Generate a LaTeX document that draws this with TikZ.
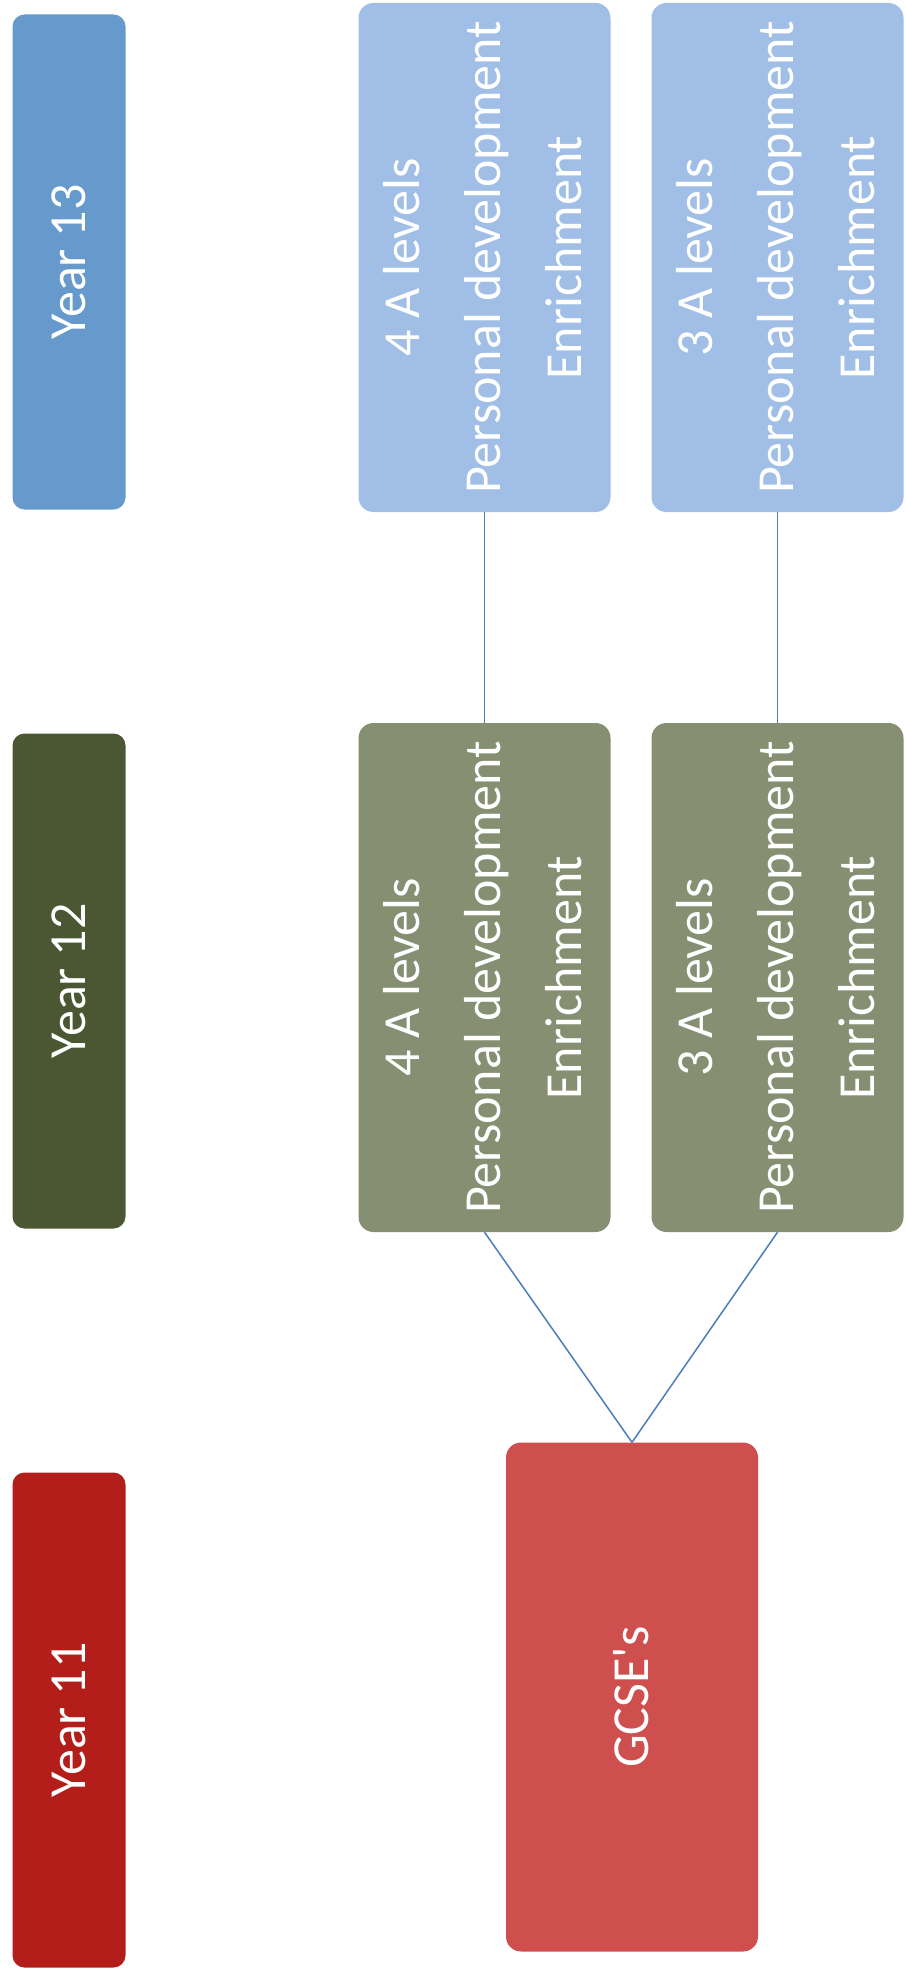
\documentclass[tikz,border=0pt]{standalone}
\usepackage{fontspec}
\setmainfont{Carlito}

\definecolor{yearblue}{HTML}{6699CC}
\definecolor{boxblue}{HTML}{A0BEE6}
\definecolor{yeargreen}{HTML}{4B5733}
\definecolor{boxgreen}{HTML}{878F72}
\definecolor{yearred}{HTML}{B31D1A}
\definecolor{boxred}{HTML}{CF4E4E}
\definecolor{linkblue}{HTML}{4A7EBB}

\newcommand{\vtext}[1]{\rotatebox{90}{\begin{tabular}{@{}c@{}}#1\end{tabular}}}

\begin{document}
\begin{tikzpicture}[x = 1pt, y = -1pt,
	yearbox/.style = {draw = none, rounded corners = 12pt, minimum width = 113pt, minimum height = 495pt, inner sep = 0pt, text = white},
	bigbox/.style = {draw = none, rounded corners = 15pt, minimum width = 252pt, minimum height = 509pt, inner sep = 0pt, text = white},
	link/.style = {draw = linkblue, line width = 1.5pt}]

	% Definitions

	\def\Big{\fontsize{52}{81}\selectfont}

	\useasboundingbox (0, 0) rectangle (905, 1977);

	% Year labels

	\node [yearbox, fill = yearblue] (y13) at (69, 262) {\Big\vtext{Year 13}};
	\node [yearbox, fill = yeargreen] (y12) at (69, 981) {\Big\vtext{Year 12}};
	\node [yearbox, fill = yearred] (y11) at (69, 1720) {\Big\vtext{Year 11}};

	% Year 13 boxes

	\node [bigbox, fill = boxblue] (b4) at (484.5, 257.5) {\Big\vtext{4 A levels\\Personal development\\Enrichment}};
	\node [bigbox, fill = boxblue] (b3) at (777.5, 257.5) {\Big\vtext{3 A levels\\Personal development\\Enrichment}};

	% Year 12 boxes

	\node [bigbox, fill = boxgreen] (g4) at (484.5, 977.5) {\Big\vtext{4 A levels\\Personal development\\Enrichment}};
	\node [bigbox, fill = boxgreen] (g3) at (777.5, 977.5) {\Big\vtext{3 A levels\\Personal development\\Enrichment}};

	% Year 11 box

	\node [bigbox, fill = boxred] (gcse) at (632, 1697) {\Big\vtext{GCSE\textquotesingle s}};

	% Links

	\draw [link] (b4.south) -- (g4.north);
	\draw [link] (b3.south) -- (g3.north);
	\draw [link] (g4.south) -- (gcse.north);
	\draw [link] (g3.south) -- (gcse.north);

\end{tikzpicture}
\end{document}
